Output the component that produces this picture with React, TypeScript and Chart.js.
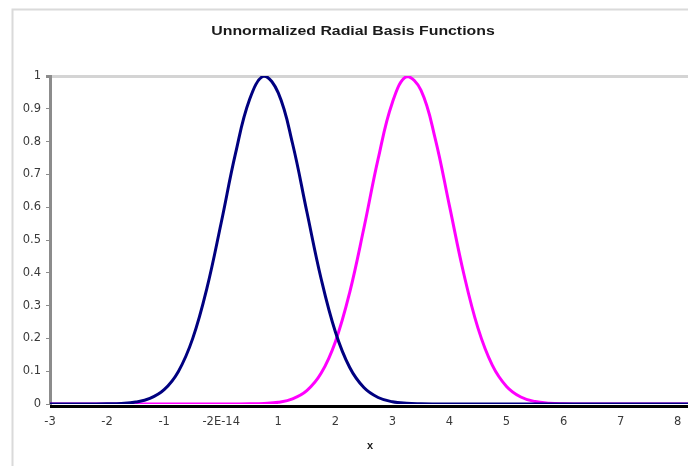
import React, { useEffect, useRef } from "react";
import { Chart, registerables } from "chart.js";

Chart.register(...registerables);

const chartTitle = "Unnormalized Radial Basis Functions";
const xAxisTitle = "x";

const xValues = [
  -3, -2.75, -2.5, -2.25, -2, -1.75, -1.5, -1.25, -1, -0.75, -0.5, -0.25,
  0, 0.25, 0.5, 0.75, 1, 1.25, 1.5, 1.75, 2, 2.25, 2.5, 2.75,
  3, 3.25, 3.5, 3.75, 4, 4.25, 4.5, 4.75, 5, 5.25, 5.5, 5.75,
  6, 6.25, 6.5, 6.75, 7, 7.25, 7.5, 7.75, 8, 8.25,
];

const blueValues = [
  0, 0, 0, 0.0001, 0.0005, 0.0017, 0.0058, 0.0169, 0.0436, 0.0993, 0.1993, 0.3533,
  0.5527, 0.7631, 0.9297, 0.9996, 0.9485, 0.7942, 0.5869, 0.3827, 0.2203, 0.1119, 0.0501, 0.0198,
  0.0069, 0.0021, 0.0006, 0.0001, 0, 0, 0, 0, 0, 0, 0, 0,
  0, 0, 0, 0, 0, 0, 0, 0, 0, 0,
];

const magentaValues = [
  0, 0, 0, 0, 0, 0, 0, 0, 0, 0, 0, 0,
  0, 0.0001, 0.0004, 0.0016, 0.0053, 0.0156, 0.0406, 0.0934, 0.1894, 0.339, 0.5357, 0.7471,
  0.9193, 0.9984, 0.9569, 0.8093, 0.604, 0.3979, 0.2313, 0.1186, 0.0537, 0.0214, 0.0076, 0.0024,
  0.0006, 0.0002, 0, 0, 0, 0, 0, 0, 0, 0,
];

const xTickValues = [-3, -2, -1, 0, 1, 2, 3, 4, 5, 6, 7, 8];
const xTickLabels = ["-3", "-2", "-1", "-2E-14", "1", "2", "3", "4", "5", "6", "7", "8"];
const yTickValues = [0, 0.1, 0.2, 0.3, 0.4, 0.5, 0.6, 0.7, 0.8, 0.9, 1];
const yTickLabels = ["0", "0.1", "0.2", "0.3", "0.4", "0.5", "0.6", "0.7", "0.8", "0.9", "1"];

const W = 688;
const H = 466;
const FONT = "Arial, 'Liberation Sans', sans-serif";
const TICK_FONT = "'DejaVu Sans', sans-serif";

const decorPlugin = {
  id: "decor",
  beforeDraw(chart: any) {
    const ctx = chart.ctx;
    ctx.save();
    ctx.fillStyle = "#ffffff";
    ctx.fillRect(0, 0, chart.width, chart.height);
    ctx.strokeStyle = "#dadada";
    ctx.lineWidth = 2;
    ctx.beginPath();
    ctx.moveTo(12.5, chart.height);
    ctx.lineTo(12.5, 9.5);
    ctx.lineTo(chart.width, 9.5);
    ctx.stroke();
    ctx.restore();
  },
  beforeDatasetsDraw(chart: any) {
    const ctx = chart.ctx;
    const ca = chart.chartArea;
    ctx.save();
    ctx.fillStyle = "#000000";
    ctx.fillRect(ca.left, ca.bottom + 1, chart.width - ca.left, 3);
    ctx.restore();
  },
  afterDraw(chart: any) {
    const ctx = chart.ctx;
    const ca = chart.chartArea;
    ctx.save();
    ctx.fillStyle = "#1a1a1a";
    ctx.textAlign = "center";
    ctx.textBaseline = "middle";
    ctx.font = `bold 12px ${FONT}`;
    ctx.save();
    ctx.translate(353, 32);
    ctx.scale(1.32, 1);
    ctx.fillText(chartTitle, 0, 0);
    ctx.restore();
    ctx.font = `bold 11px ${FONT}`;
    ctx.fillText(xAxisTitle, (ca.left + ca.right) / 2 + 1, 446);
    ctx.restore();
  },
};

export default function App() {
  const canvasRef = useRef<HTMLCanvasElement | null>(null);

  useEffect(() => {
    const canvas = canvasRef.current;
    if (!canvas) return;
    const chart = new Chart(canvas, {
      type: "line",
      data: {
        datasets: [
          {
            label: "RBF 1",
            data: xValues.map((x, i) => ({ x, y: blueValues[i] })),
            borderColor: "#000080",
            borderWidth: 3,
            pointRadius: 0,
            fill: false,
            tension: 0.4,
          },
          {
            label: "RBF 2",
            data: xValues.map((x, i) => ({ x, y: magentaValues[i] })),
            borderColor: "#ff00ff",
            borderWidth: 3,
            pointRadius: 0,
            fill: false,
            tension: 0.4,
          },
        ],
      },
      options: {
        animation: false,
        responsive: false,
        devicePixelRatio: 1,
        layout: { padding: { top: 76, left: 0, right: 0, bottom: 0 } },
        plugins: {
          legend: { display: false },
          title: { display: false },
          tooltip: { enabled: false },
        },
        scales: {
          x: {
            type: "linear",
            min: -3,
            max: 8.18,
            afterBuildTicks: (s: any) => {
              s.ticks = xTickValues.map((v) => ({ value: v }));
            },
            afterFit: (s: any) => {
              s.height = 62;
              s.paddingLeft = 0;
              s.paddingRight = 0;
            },
            grid: { display: false, drawTicks: false },
            border: { display: false },
            ticks: {
              autoSkip: false,
              maxRotation: 0,
              padding: 11,
              color: "#3a3a3a",
              font: { family: TICK_FONT, size: 11.5 },
              callback: (_v: any, i: number) => xTickLabels[i],
            },
          },
          y: {
            min: 0,
            max: 1,
            afterBuildTicks: (s: any) => {
              s.ticks = yTickValues.map((v) => ({ value: v }));
            },
            afterFit: (s: any) => {
              s.width = 50;
            },
            grid: {
              color: (c: any) => (c.tick && c.tick.value === 1 ? "#d4d4d4" : "rgba(0,0,0,0)"),
              lineWidth: (c: any) => (c.tick && c.tick.value === 1 ? 3 : 1),
              tickColor: "#8c8c8c",
              tickLength: 4,
              drawTicks: true,
            },
            border: { display: true, color: "#8c8c8c", width: 3 },
            ticks: {
              padding: 5,
              color: "#3a3a3a",
              font: { family: TICK_FONT, size: 11.5 },
              callback: (_v: any, i: number) => yTickLabels[i],
            },
          },
        },
      },
      plugins: [decorPlugin],
    } as any);
    return () => chart.destroy();
  }, []);

  return (
    <div style={{ position: "absolute", left: 0, top: 0, width: W, height: H, background: "#fff" }}>
      <canvas ref={canvasRef} width={W} height={H} style={{ width: W, height: H, display: "block" }} />
    </div>
  );
}
